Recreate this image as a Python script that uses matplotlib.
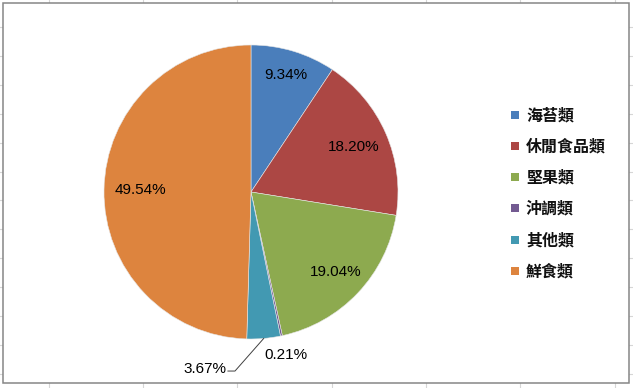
import numpy as np
import matplotlib
matplotlib.use("Agg")
import matplotlib.pyplot as plt
from matplotlib.patches import Rectangle

# data
categories = ["海苔類", "休閒食品類", "堅果類", "沖調類", "其他類", "鮮食類"]
shares = np.array([9.34, 18.20, 19.04, 0.21, 3.67, 49.54])
pct_labels = ["9.34%", "18.20%", "19.04%", "0.21%", "3.67%", "49.54%"]
colors = ["#4A7EBB", "#AC4744", "#8DAA4F", "#735A91", "#4299B2", "#DD843E"]

W, H = 633, 388
fig = plt.figure(figsize=(W / 100, H / 100), dpi=100)

# background: sheet gridlines + chart area box (pixel coords)
bg = fig.add_axes([0, 0, 1, 1])
bg.set_xlim(0, W)
bg.set_ylim(H, 0)
bg.axis("off")
for y in np.arange(27, H, 28.9):
    bg.axhline(y, color="#D6D6D6", lw=0.8, zorder=0)
for x in np.arange(48.7, W, 94.3):
    bg.axvline(x, color="#D6D6D6", lw=0.8, zorder=0)
bg.add_patch(Rectangle((3, 3), 626, 380, facecolor="white",
                       edgecolor="#868686", lw=1.1, zorder=1))

# legend drawn by hand
for i, (cat, col) in enumerate(zip(categories, colors)):
    yc = 114.8 + 31.2 * i
    bg.add_patch(Rectangle((511, yc - 4), 8, 8, facecolor=col,
                           edgecolor="none", zorder=2))
    bg.text(526, yc + 0.5, cat, fontsize=11.5, va="center", ha="left",
            fontweight="bold", color="#111111",
            family=["Noto Sans CJK TC", "DejaVu Sans"], zorder=3)

# pie
cx, cy, r = 251, 192, 147
half = 150
ax = fig.add_axes([(cx - half) / W, (H - cy - half) / H, 2 * half / W, 2 * half / H])
wedges, _ = ax.pie(shares, colors=colors, startangle=90, counterclock=False,
                   radius=1, wedgeprops=dict(linewidth=0.4, edgecolor="#E6E6E6"))
lim = half / r
ax.set_xlim(-lim, lim)
ax.set_ylim(-lim, lim)
ax.set_aspect("equal", adjustable="box")
ax.axis("off")

mid = np.deg2rad(90 - (np.cumsum(shares) - shares / 2) * 3.6)
dist = [0.83, 0.76, 0.79, 1.135, None, 0.75]
lab_font = dict(fontsize=11, family="Liberation Sans", color="black")
for i, lab in enumerate(pct_labels):
    if dist[i] is None:
        continue
    ax.text(dist[i] * np.cos(mid[i]), dist[i] * np.sin(mid[i]), lab,
            ha="center", va="center", **lab_font)

# 3.67% sits outside with a leader line
i = 4
ex, ey = np.cos(mid[i]), np.sin(mid[i])
ax.plot([ex, -0.109, -0.157], [ey, -1.218, -1.218], color="#404040", lw=0.7,
        clip_on=False)
ax.text(-0.165, -1.203, pct_labels[i], ha="right", va="center", **lab_font)

fig.savefig("out.png", dpi=100)
